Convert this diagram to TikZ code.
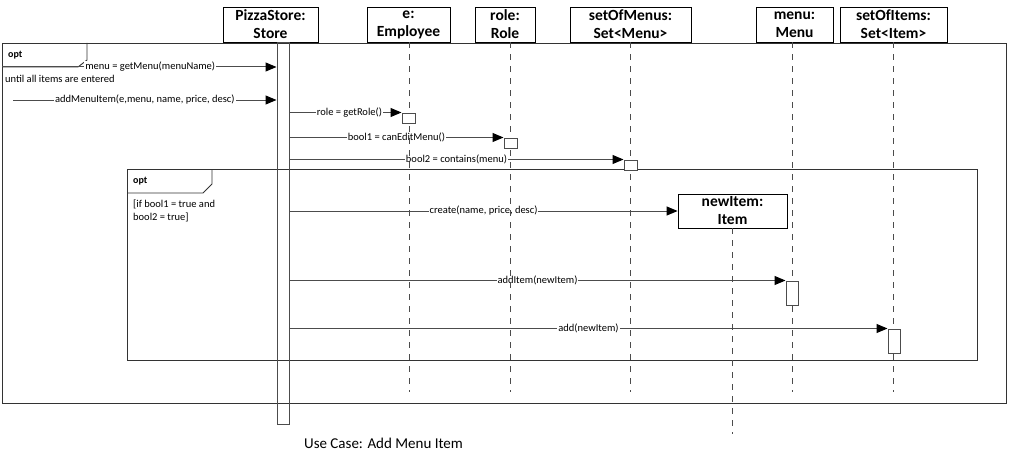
\documentclass[tikz,border=0pt]{standalone}
\usepackage{fontspec}
\setmainfont{Carlito}
\usetikzlibrary{
    arrows.meta,
    backgrounds,
    positioning
}

\begin{document}
\begin{tikzpicture}[x=1pt, y=-1pt,
    obj/.style={draw, line width=0.8pt, minimum height=35pt, inner sep=0pt, align=center, font=\fontsize{15.5}{18}\selectfont\bfseries},
    act/.style={draw=black!70, line width=1pt, fill=white, inner sep=0pt},
    life/.style={black!70, line width=1pt, dash pattern=on 6pt off 6pt},
    msg/.style={black!70, line width=1pt, -{Triangle[length=11pt, width=9pt, color=black]}},
    lbl/.style={fill=white, text=black, inner sep=1pt, font=\fontsize{10.5}{12}\selectfont},
    frame/.style={black!80, line width=0.9pt},
    txt/.style={anchor=west, inner sep=0pt, align=left, font=\fontsize{10.5}{13}\selectfont}
]
\useasboundingbox (0,0) rectangle (1009,460);

% objects
\node[obj, minimum width=95pt] (store) at (270.5, 24.5) {PizzaStore:\\Store};
\node[obj, minimum width=83pt] (emp) at (408.5, 24.5) {e:\\Employee};
\node[obj, minimum width=60pt] (role) at (505, 24.5) {role:\\Role};
\node[obj, minimum width=121pt] (menus) at (630.5, 24.5) {setOfMenus:\\Set<Menu>};
\node[obj, minimum width=77pt] (menu) at (794.5, 24.5) {menu:\\Menu};
\node[obj, minimum width=107pt] (items) at (893.5, 24.5) {setOfItems:\\Set<Item>};
\node[obj, minimum width=109pt, minimum height=34pt] (newItem) at (732.5, 211) {newItem:\\Item};

% lifeline ends
\coordinate (empEnd) at (409, 392);
\coordinate (roleEnd) at (510, 392);
\coordinate (menusEnd) at (630, 392);
\coordinate (menuEnd) at (792, 392);
\coordinate (itemsEnd) at (893, 392);
\coordinate (newItemEnd) at (732, 434);
\coordinate (in1) at (2, 67);
\coordinate (in2) at (13, 100);

\draw[life] (emp.south -| empEnd) -- (empEnd);
\draw[life] (role.south -| roleEnd) -- (roleEnd);
\draw[life] (menus.south -| menusEnd) -- (menusEnd);
\draw[life] (menu.south -| menuEnd) -- (menuEnd);
\draw[life] (items.south -| itemsEnd) -- (itemsEnd);
\draw[life] (newItem.south -| newItemEnd) -- (newItemEnd);

% activations
\node[draw=black!70, line width=1pt, inner sep=0pt, minimum width=12pt, minimum height=381pt] (bar) at (283, 233.5) {};
\node[act, minimum width=13pt, minimum height=10pt] (empAct) at (408.5, 118) {};
\node[act, minimum width=13pt, minimum height=10pt] (roleAct) at (510.5, 143) {};
\node[act, minimum width=13pt, minimum height=10pt] (menusAct) at (630.5, 165) {};
\node[act, minimum width=12pt, minimum height=24pt] (menuAct) at (792, 293) {};
\node[act, minimum width=12pt, minimum height=24pt] (itemsAct) at (894, 341) {};

% frames
\node[txt, font=\fontsize{10}{12}\selectfont\bfseries] (optA) at (8, 55) {opt};
\node[txt] (until) at (5, 79) {until all items are entered};
\node[txt, font=\fontsize{10}{12}\selectfont\bfseries] (optB) at (133, 181) {opt};
\node[txt] (guard) at (133, 210.5) {[if bool1 = true and\\bool2 = true]};
\node[font=\fontsize{15}{18}\selectfont] (caption) at (383.5, 443) {Use Case: Add Menu Item};

\begin{pgfonlayer}{background}
\draw[frame] (2, 43) rectangle (1006, 403);
\draw[frame] (2, 67) -- (78, 67) -- (87, 60) -- (87, 43);
\draw[frame] (127, 169) rectangle (977, 360);
\draw[frame] (127, 193) -- (203, 193) -- (212, 184) -- (212, 169);

% messages
\draw[msg] (in1) -- node[lbl, pos=0.54] {menu = getMenu(menuName)} (bar.west |- in1);
\draw[msg] (in2) -- node[lbl] {addMenuItem(e,menu, name, price, desc)} (bar.west |- in2);
\draw[msg] (bar.east |- empAct.north west) -- node[lbl, pos=0.535] {role = getRole()} (empAct.north west);
\draw[msg] (bar.east |- roleAct.north west) -- node[lbl] {bool1 = canEditMenu()} (roleAct.north west);
\draw[msg] (bar.east |- menusAct.north west) -- node[lbl] {bool2 = contains(menu)} (menusAct.north west);
\draw[msg] (bar.east |- newItem.west) -- node[lbl] {create(name, price, desc)} (newItem.west);
\draw[msg] (bar.east |- menuAct.north west) -- node[lbl] {addItem(newItem)} (menuAct.north west);
\draw[msg] (bar.east |- itemsAct.north west) -- node[lbl] {add(newItem)} (itemsAct.north west);
\end{pgfonlayer}
\end{tikzpicture}
\end{document}
